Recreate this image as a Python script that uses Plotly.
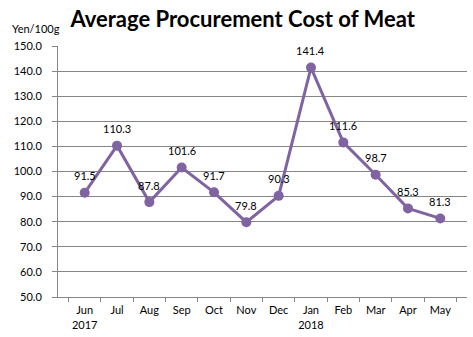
import plotly.graph_objects as go

months = ["Jun<br>2017", "Jul", "Aug", "Sep", "Oct", "Nov", "Dec", "Jan<br>2018", "Feb", "Mar", "Apr", "May"]
values = [91.5, 110.3, 87.8, 101.6, 91.7, 79.8, 90.3, 141.4, 111.6, 98.7, 85.3, 81.3]
y_ticks = [50, 60, 70, 80, 90, 100, 110, 120, 130, 140, 150]

color = "#8064A2"
font_family = "Lato, Open Sans, sans-serif"

fig = go.Figure()
fig.add_trace(go.Scatter(
    x=months, y=values, mode="lines+markers",
    line=dict(color=color, width=3),
    marker=dict(color=color, size=10),
    hoverinfo="skip", showlegend=False,
))
for m, v in zip(months, values):
    fig.add_annotation(x=m, y=v, text=f"{v:.1f}", showarrow=False,
                       yshift=17, font=dict(size=11, color="#000", family=font_family))

fig.update_layout(
    width=473, height=337,
    margin=dict(l=58, r=6, t=46, b=40),
    paper_bgcolor="white", plot_bgcolor="white",
    title=dict(text="<b>Average Procurement Cost of Meat</b>", x=0.513, xanchor="center",
               y=0.965, yanchor="top",
               font=dict(size=22, family="Lato, Open Sans, sans-serif", color="#000")),
    font=dict(family=font_family, size=11, color="#000"),
    xaxis=dict(type="category", tickson="boundaries", ticks="outside", ticklen=4,
               tickangle=0, tickcolor="#868686", showline=True, linecolor="#868686",
               linewidth=1, showgrid=False, tickfont=dict(size=11), fixedrange=True,
               ticklabelstandoff=3),
    yaxis=dict(range=[50, 150], tickvals=y_ticks, ticktext=[f"{t:.1f}" for t in y_ticks],
               ticks="outside", ticklen=5, tickcolor="#868686", showline=True,
               linecolor="#868686", linewidth=1, showgrid=True, gridcolor="#868686",
               gridwidth=1, zeroline=False, tickfont=dict(size=11), fixedrange=True,
               ticklabelstandoff=8),
)
fig.add_annotation(xref="paper", yref="paper", x=-48/409, y=1 + 9/251, xanchor="left",
                   yanchor="bottom", text="Yen/100g", showarrow=False,
                   font=dict(size=11, family=font_family, color="#000"))

fig.write_html("out.html")
